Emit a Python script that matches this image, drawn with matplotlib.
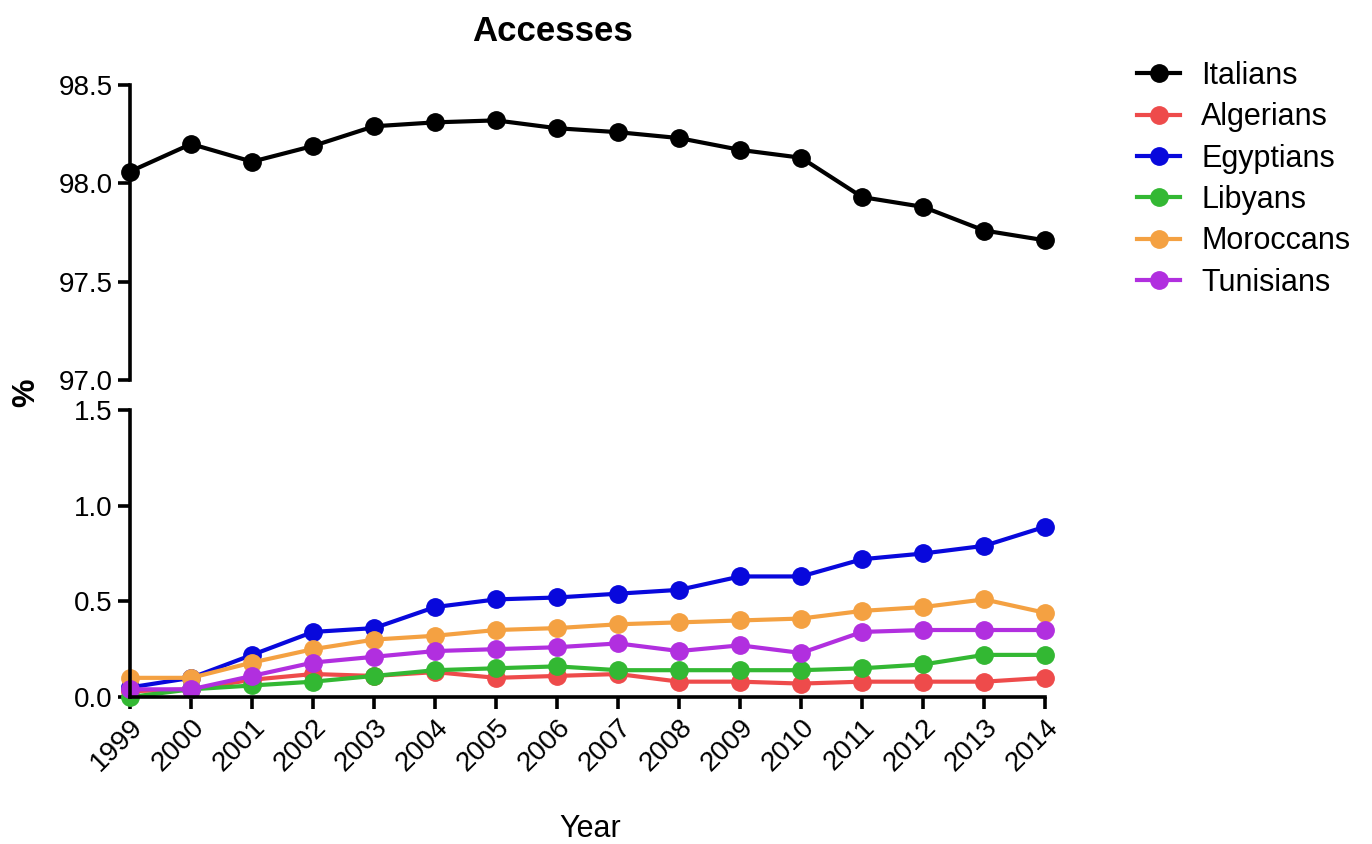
import matplotlib
matplotlib.use("Agg")
import matplotlib.pyplot as plt
import numpy as np

plt.rcParams["font.family"] = ["Liberation Sans", "DejaVu Sans"]

years = list(range(1999, 2015))

italians = [98.06, 98.20, 98.11, 98.19, 98.29, 98.31, 98.32, 98.28,
            98.26, 98.23, 98.17, 98.13, 97.93, 97.88, 97.76, 97.71]
algerians = [0.03, 0.04, 0.09, 0.12, 0.11, 0.13, 0.10, 0.11,
             0.12, 0.08, 0.08, 0.07, 0.08, 0.08, 0.08, 0.10]
egyptians = [0.05, 0.10, 0.22, 0.34, 0.36, 0.47, 0.51, 0.52,
             0.54, 0.56, 0.63, 0.63, 0.72, 0.75, 0.79, 0.89]
libyans = [0.00, 0.04, 0.06, 0.08, 0.11, 0.14, 0.15, 0.16,
           0.14, 0.14, 0.14, 0.14, 0.15, 0.17, 0.22, 0.22]
moroccans = [0.10, 0.10, 0.18, 0.25, 0.30, 0.32, 0.35, 0.36,
             0.38, 0.39, 0.40, 0.41, 0.45, 0.47, 0.51, 0.44]
tunisians = [0.04, 0.04, 0.11, 0.18, 0.21, 0.24, 0.25, 0.26,
             0.28, 0.24, 0.27, 0.23, 0.34, 0.35, 0.35, 0.35]

minor_groups = [
    ("Algerians", algerians, "#EE4B4B"),
    ("Egyptians", egyptians, "#0808DC"),
    ("Libyans", libyans, "#33B833"),
    ("Moroccans", moroccans, "#F4A142"),
    ("Tunisians", tunisians, "#B12FDF"),
]

fig = plt.figure(figsize=(13.72, 8.44), dpi=100)
ax_top = fig.add_axes([0.0948, 0.5498, 0.667, 0.3495])
ax_bot = fig.add_axes([0.0948, 0.1742, 0.667, 0.3400])

line_kw = dict(linewidth=3.0, marker="o", markersize=12.5, clip_on=False)

handles = []
h, = ax_top.plot(years, italians, color="black", label="Italians", **line_kw)
handles.append(h)
for name, values, color in minor_groups:
    h, = ax_bot.plot(years, values, color=color, label=name, **line_kw)
    handles.append(h)

for ax in (ax_top, ax_bot):
    ax.set_xlim(1999, 2014)
    ax.spines["top"].set_visible(False)
    ax.spines["right"].set_visible(False)
    ax.spines["left"].set_linewidth(2.6)
    ax.spines["bottom"].set_linewidth(2.6)
    ax.tick_params(width=2.6, length=8.5, labelsize=20, pad=4)

ax_top.set_ylim(97.0, 98.5)
ax_top.set_yticks([97.0, 97.5, 98.0, 98.5])
ax_top.set_yticklabels([f"{v:.1f}" for v in [97.0, 97.5, 98.0, 98.5]])
ax_top.spines["bottom"].set_visible(False)
ax_top.tick_params(axis="x", bottom=False, labelbottom=False)

ax_bot.set_ylim(0.0, 1.5)
ax_bot.set_yticks([0.0, 0.5, 1.0, 1.5])
ax_bot.set_yticklabels([f"{v:.1f}" for v in [0.0, 0.5, 1.0, 1.5]])
ax_bot.set_xticks(years)
ax_bot.set_xticklabels([str(y) for y in years], rotation=45,
                       ha="right", rotation_mode="anchor")

fig.text(0.403, 0.963, "Accesses", ha="center", va="center",
         fontsize=25, fontweight="bold")
fig.text(0.43, 0.018, "Year", ha="center", va="center", fontsize=22)
fig.text(0.019, 0.535, "%", ha="center", va="center", rotation=90,
         fontsize=23, fontweight="bold")

fig.legend(handles=handles, loc="upper left", bbox_to_anchor=(0.82, 0.942),
           frameon=False, fontsize=22, handlelength=1.4, handletextpad=0.7,
           labelspacing=0.37, borderaxespad=0)

fig.savefig("out.png", dpi=100)
